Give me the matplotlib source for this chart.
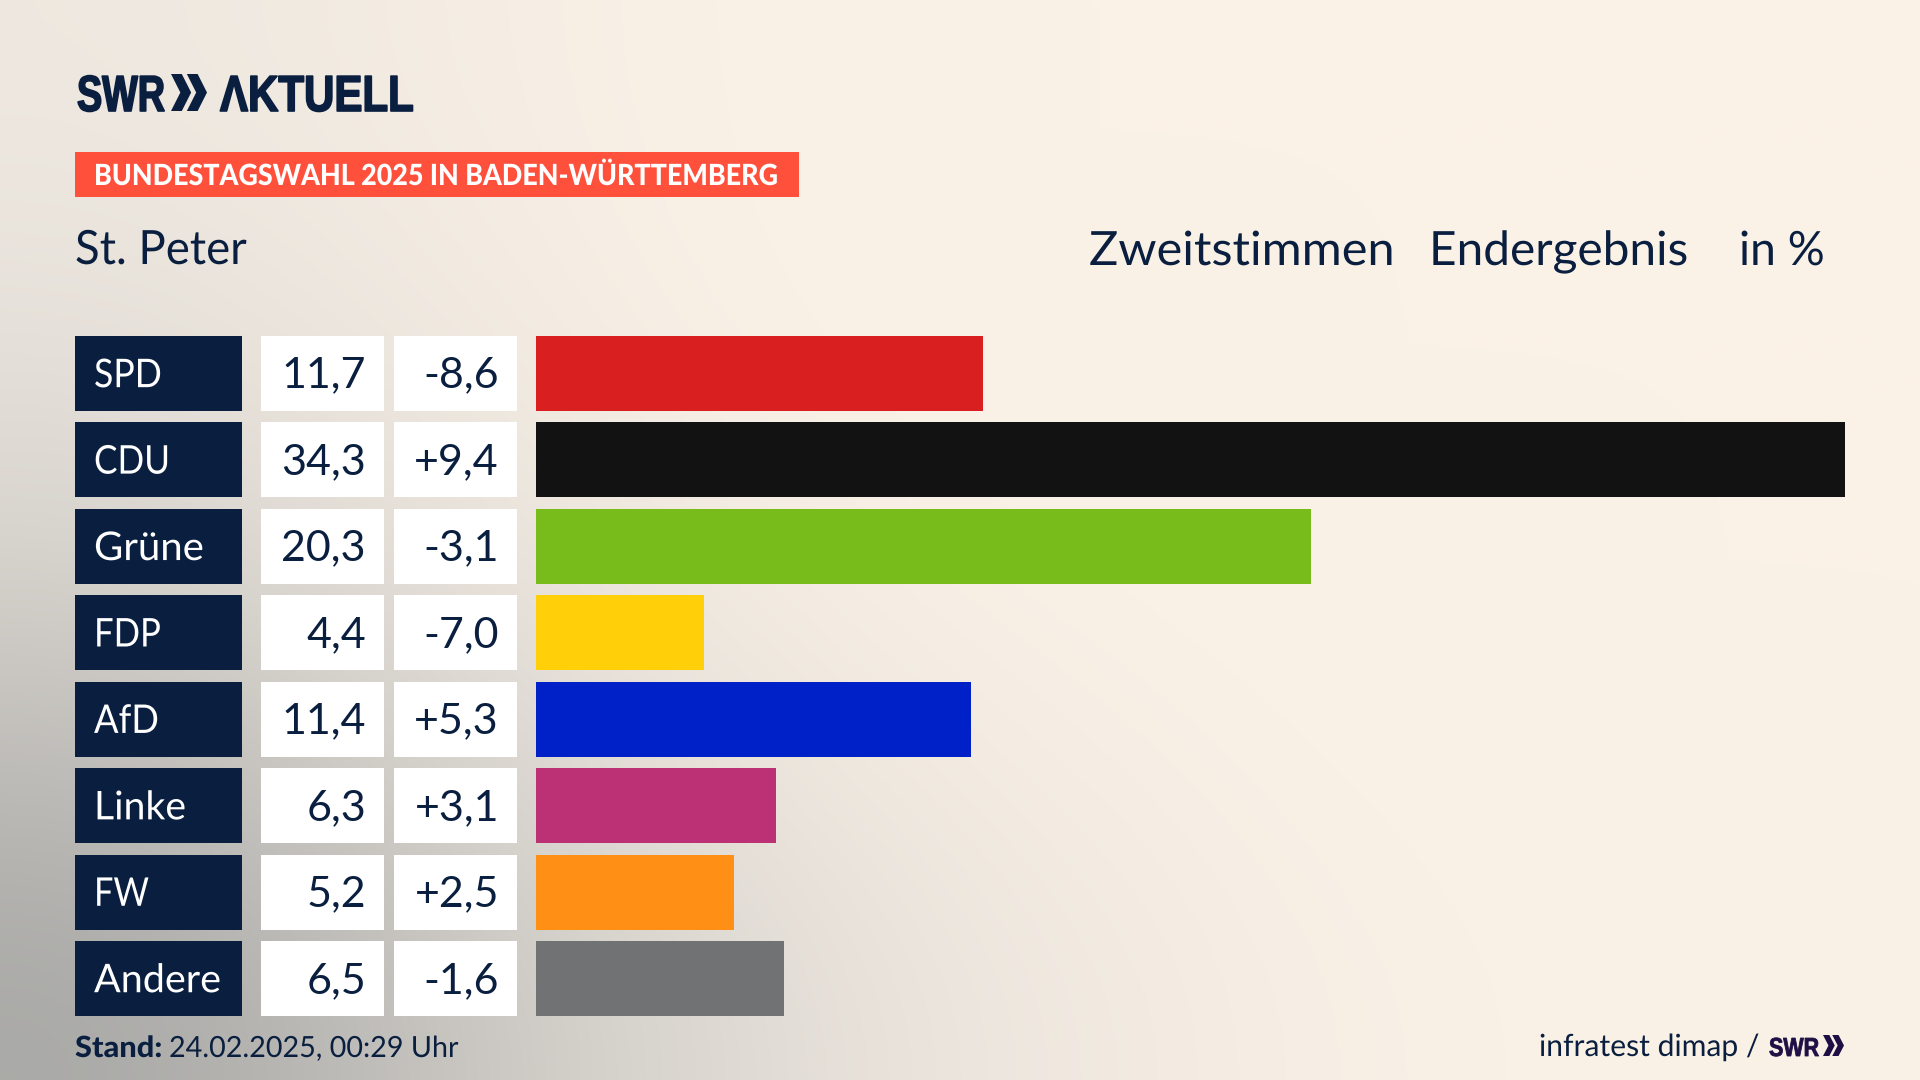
# Wahlgrafik St. Peter, Zweitstimmen

import matplotlib
matplotlib.use('Agg')
import matplotlib.pyplot as plt
import numpy as np
from matplotlib.patches import Polygon, Rectangle
from matplotlib.patheffects import AbstractPathEffect
from matplotlib.transforms import Affine2D

plt.rcParams['font.family'] = ['Lato', 'Noto Sans', 'DejaVu Sans']

# DATA
parties = ['SPD', 'CDU', 'Grüne', 'FDP', 'AfD', 'Linke', 'FW', 'Andere']
shares = [11.7, 34.3, 20.3, 4.4, 11.4, 6.3, 5.2, 6.5]
diffs = ['-8,6', '+9,4', '-3,1', '-7,0', '+5,3', '+3,1', '+2,5', '-1,6']
colors = ['#D91F1F', '#121212', '#78BC1B', '#FFCF0A', '#0020C8', '#BC3176', '#FF8F15', '#717274']

# label widths in px, the original font is narrower than Lato
party_px = [68, 76, 110, 67, 65, 92, 55, 127]

NAVY = '#0A1F3F'
W, H = 1920, 1080
LOGO_FONT = ['Liberation Sans', 'DejaVu Sans']

# background colours, sampled on a coarse grid (top row first)
bg_grid = ['#EEE8E0 #F6EEE4 #FBF2E7 #FBF2E7 #FBF2E7 #FBF2E7',
           '#E6E1DA #F3EBE2 #FBF2E7 #FBF2E7 #FBF2E7 #FBF2E7',
           '#D8D4CE #EAE4DC #F7EFE5 #FBF2E7 #FBF2E7 #FBF2E7',
           '#BEBCB8 #DAD6D0 #EFE8DF #F7EFE5 #FBF2E7 #FBF2E7',
           '#A8A8A6 #CBC8C3 #E4DFD8 #F3EBE2 #F9F0E6 #FBF2E7']


class Squeeze(AbstractPathEffect):
    # narrows a text around its left edge, lw makes it heavier
    def __init__(self, sx, lw=0):
        super().__init__()
        self.sx = sx
        self.lw = lw

    def draw_path(self, renderer, gc, tpath, affine, rgbFace=None):
        gc0 = renderer.new_gc()
        gc0.copy_properties(gc)
        if self.lw:
            gc0.set_linewidth(self.lw)
            gc0.set_foreground(rgbFace)
        renderer.draw_path(gc0, tpath, Affine2D().scale(self.sx, 1) + affine, rgbFace)
        gc0.restore()


def fit(t, px, lw=0):
    bb = t.get_window_extent(fig.canvas.get_renderer())
    t.set_path_effects([Squeeze(px / bb.width, lw)])
    return t


def px_axes(x0, y0, x1, y1):
    return fig.add_axes([x0 / W, 1 - y1 / H, (x1 - x0) / W, (y1 - y0) / H])


def txt(x, y, s, size, px=None, lw=0, **kw):
    kw.setdefault('color', NAVY)
    t = fig.text(x / W, 1 - y / H, s, fontsize=size, va='baseline', **kw)
    if px:
        fit(t, px, lw)
    return t


def chevrons(x, y, w, h, color):
    # two arrow heads of the SWR logo
    arm = w * 0.3
    tip = w * 0.56
    for dx in [0, w * 0.44]:
        pts = [(x + dx, y), (x + dx + arm, y), (x + dx + tip, y + h / 2),
               (x + dx + arm, y + h), (x + dx, y + h), (x + dx + tip - arm, y + h / 2)]
        fig.add_artist(Polygon([(a / W, 1 - b / H) for a, b in pts], closed=True,
                               transform=fig.transFigure, color=color, lw=0))


fig = plt.figure(figsize=(W / 100, H / 100), dpi=100)

# BACKGROUND
bg = np.array([[matplotlib.colors.to_rgb(c) for c in row.split()] for row in bg_grid])
ax_bg = px_axes(0, 0, W, H)
ax_bg.imshow(bg, aspect='auto', interpolation='bicubic')
ax_bg.axis('off')

# ROWS
y = np.arange(len(parties))
row_h = 75 / 86.5
top, bottom = 336 - 5.75, 1016 + 5.75
nudge = 0.015

ax_party = px_axes(75, top, 242, bottom)
ax_val = px_axes(261, top, 384, bottom)
ax_diff = px_axes(394, top, 517, bottom)
ax_bar = px_axes(536, top, 1845, bottom)

for ax in [ax_party, ax_val, ax_diff]:
    ax.barh(y, 1, height=row_h, color=NAVY if ax is ax_party else 'white')
    ax.set_xlim(0, 1)
ax_bar.barh(y, shares, height=row_h, color=colors)
ax_bar.set_xlim(0, max(shares))

for ax in [ax_party, ax_val, ax_diff, ax_bar]:
    ax.set_ylim(len(parties) - 0.5, -0.5)
    ax.axis('off')

for i in y:
    t = ax_party.text(19 / 167, i - nudge, parties[i], color='white', fontsize=28.5, va='center_baseline')
    fit(t, party_px[i])
    ax_val.text(105 / 123, i - nudge, ('%.1f' % shares[i]).replace('.', ','), color=NAVY, fontsize=31,
                ha='right', va='center_baseline')
    ax_diff.text(105 / 123, i - nudge, diffs[i], color=NAVY, fontsize=31, ha='right', va='center_baseline')

# HEADER
txt(77, 111, 'SWR', 36.5, px=88, lw=1.2, fontweight='bold', family=LOGO_FONT)
chevrons(171, 74, 36, 37, NAVY)
txt(220, 111, 'ΛKTUELL', 36.5, px=194, lw=1.2, fontweight='bold', family=LOGO_FONT)

fig.add_artist(Rectangle((75 / W, 1 - 197 / H), 724 / W, 45 / H, transform=fig.transFigure,
                         color='#FF503C', lw=0))
txt(94, 185, 'BUNDESTAGSWAHL 2025 IN BADEN-WÜRTTEMBERG', 21, px=684, color='white', fontweight='black')

txt(75, 264, 'St. Peter', 34, px=172)
txt(1089, 265, 'Zweitstimmen', 34, px=306)
txt(1429, 265, 'Endergebnis', 34, px=260)
txt(1739, 265, 'in %', 34, px=86)

# FOOTER
txt(75, 1057, 'Stand:', 21, px=87, fontweight='black')
txt(169, 1057, '24.02.2025, 00:29 Uhr', 21, px=289)
txt(1539, 1056, 'infratest dimap /', 22, px=220)
txt(1769, 1056, 'SWR', 18.8, px=50, lw=0.6, fontweight='bold', family=LOGO_FONT, color='#1E0F45')
chevrons(1823, 1035, 21, 21, '#1E0F45')

fig.savefig('out.png', dpi=100)
